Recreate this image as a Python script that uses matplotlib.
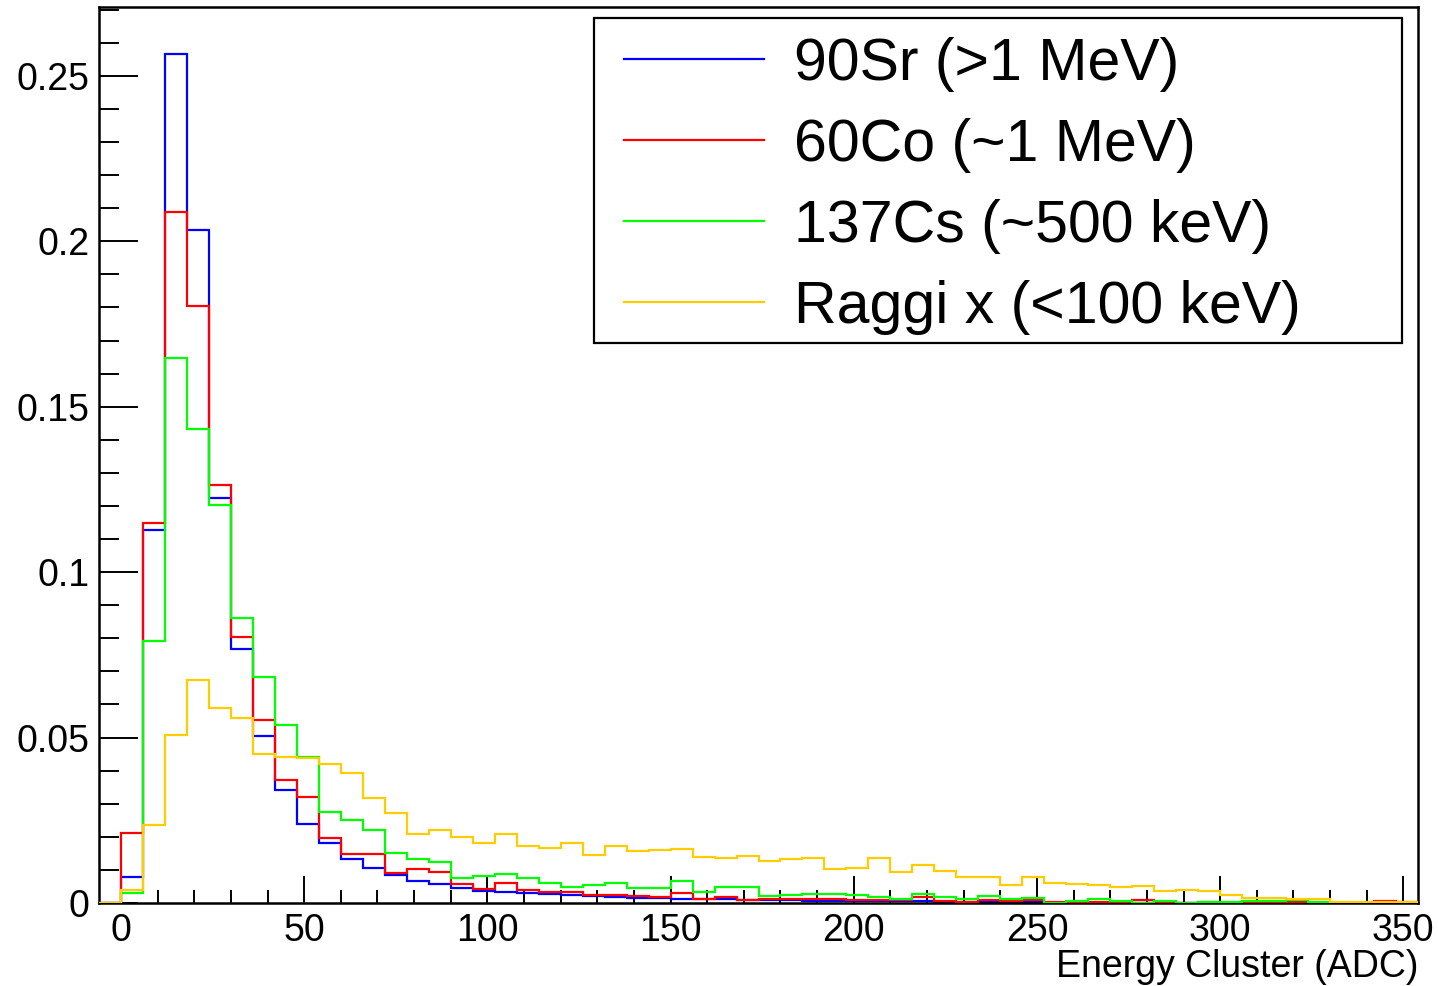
import numpy as np
import matplotlib
matplotlib.use("Agg")
import matplotlib.pyplot as plt
from matplotlib.ticker import MultipleLocator, FuncFormatter
from matplotlib.lines import Line2D
from matplotlib.patches import Rectangle

plt.rcParams['font.family'] = ['Liberation Sans', 'DejaVu Sans']

# Histogram contents for bins 0-6, 6-12, ..., 348-354 (bin -6..0 is empty)
sr90 = [0.0080, 0.1127, 0.2566, 0.2034, 0.1223, 0.0767, 0.0504, 0.0343, 0.0239, 0.0181,
        0.0132, 0.0106, 0.0084, 0.0066, 0.0057, 0.0045, 0.0037, 0.0033, 0.0031, 0.0028,
        0.0025, 0.0021, 0.0018, 0.0016, 0.0015, 0.0013, 0.0012, 0.0011, 0.0010, 0.0009,
        0.0008, 0.0007, 0.0007, 0.0006, 0.0005, 0.0005, 0.0005, 0.0004, 0.0004, 0.0004,
        0.0004, 0.0003, 0, 0, 0, 0, 0, 0, 0, 0,
        0, 0, 0, 0, 0, 0, 0, 0, 0]
co60 = [0.0212, 0.1147, 0.2087, 0.1803, 0.1263, 0.0804, 0.0552, 0.0371, 0.0320, 0.0195,
        0.0149, 0.0147, 0.0091, 0.0102, 0.0093, 0.0057, 0.0041, 0.0060, 0.0038, 0.0033,
        0.0033, 0.0025, 0.0023, 0.0021, 0.0018, 0.0030, 0.0013, 0.0018, 0.0008, 0.0013,
        0.0013, 0.0013, 0.0013, 0.0008, 0.0008, 0.0008, 0.0018, 0.0006, 0.0004, 0.0008,
        0.0006, 0.0010, 0.0002, 0.0002, 0.0002, 0.0002, 0.0008, 0.0004, 0.0001, 0.0002,
        0.0001, 0.0001, 0.0004, 0.0002, 0.0001, 0.0001, 0.0001, 0.0005, 0.0002]
cs137 = [0.0031, 0.0791, 0.1647, 0.1433, 0.1203, 0.0860, 0.0682, 0.0539, 0.0441, 0.0275,
         0.0251, 0.0220, 0.0151, 0.0133, 0.0124, 0.0076, 0.0082, 0.0089, 0.0077, 0.0060,
         0.0047, 0.0055, 0.0060, 0.0044, 0.0044, 0.0067, 0.0033, 0.0047, 0.0047, 0.0020,
         0.0023, 0.0027, 0.0027, 0.0023, 0.0018, 0.0013, 0.0028, 0.0018, 0.0013, 0.0021,
         0.0011, 0.0014, 0.0000, 0.0006, 0.0012, 0.0006, 0.0000, 0.0006, 0.0000, 0.0004,
         0.0002, 0.0005, 0.0005, 0.0008, 0.0002, 0, 0, 0, 0]
xray = [0.0038, 0.0237, 0.0507, 0.0673, 0.0590, 0.0559, 0.0450, 0.0440, 0.0437, 0.0421,
        0.0394, 0.0316, 0.0272, 0.0210, 0.0220, 0.0198, 0.0180, 0.0208, 0.0171, 0.0167,
        0.0181, 0.0144, 0.0171, 0.0156, 0.0159, 0.0162, 0.0138, 0.0136, 0.0141, 0.0127,
        0.0132, 0.0135, 0.0102, 0.0106, 0.0135, 0.0094, 0.0114, 0.0097, 0.0079, 0.0079,
        0.0054, 0.0078, 0.0059, 0.0056, 0.0054, 0.0047, 0.0050, 0.0035, 0.0038, 0.0035,
        0.0023, 0.0015, 0.0014, 0.0012, 0.0011, 0.0003, 0.0003, 0.0002, 0.0002]

labels = ["90Sr (>1 MeV)", "60Co (~1 MeV)", "137Cs (~500 keV)", "Raggi x (<100 keV)"]
colors = ["#0000ff", "#ff0000", "#00ff00", "#ffcc00"]
x_label = "Energy Cluster (ADC)"

bin_lo, bin_hi, bin_w = -6, 354, 6
edges = np.arange(bin_lo, bin_hi + bin_w / 2, bin_w)

W, H = 1438, 986
fig = plt.figure(figsize=(W / 100, H / 100), dpi=100)
ax = fig.add_axes([99 / W, 83 / H, 1319 / W, 896 / H])

series = [sr90, co60, cs137, xray]
order = [0, 2, 1, 3]
for i in order:
    vals = np.concatenate([[0.0], series[i]])
    ax.stairs(vals, edges, color=colors[i], lw=1.6, zorder=2 + i)

ax.set_xlim(bin_lo, bin_hi)
ax.set_ylim(0, 0.2708)

ax.xaxis.set_major_locator(MultipleLocator(50))
ax.xaxis.set_minor_locator(MultipleLocator(10))
ax.yaxis.set_major_locator(MultipleLocator(0.05))
ax.yaxis.set_minor_locator(MultipleLocator(0.01))
ax.yaxis.set_major_formatter(FuncFormatter(lambda v, p: "%g" % round(v, 4)))

ax.tick_params(axis='x', which='major', direction='in', length=19.4, width=1.4,
               labelsize=27, pad=7, top=False)
ax.tick_params(axis='x', which='minor', direction='in', length=9.7, width=1.4, top=False)
ax.tick_params(axis='y', which='major', direction='in', length=28.4, width=1.4,
               labelsize=27, pad=7, right=False)
ax.tick_params(axis='y', which='minor', direction='in', length=14.2, width=1.4, right=False)
for s in ax.spines.values():
    s.set_linewidth(1.8)

ax.set_xlabel(x_label, fontsize=27, ha='right', x=1.0, labelpad=0)

# legend frame (drawn separately to match the box exactly)
ax.add_patch(Rectangle((594 / W, 1 - 343 / H), (1402 - 594) / W, (343 - 18) / H,
                       transform=fig.transFigure, fill=True, facecolor='white',
                       edgecolor='black', lw=1.6, zorder=10, clip_on=False))

fs = 42.5
handles = [Line2D([], [], color=c, lw=1.6) for c in colors]
leg = ax.legend(handles, labels, loc='upper left',
                bbox_to_anchor=(624 / W, 1 - 37 / H),
                bbox_transform=fig.transFigure,
                fontsize=fs, frameon=False,
                handlelength=2.38, handletextpad=0.5, borderpad=0,
                labelspacing=0.44, borderaxespad=0)
leg.set_zorder(11)

fig.savefig("out.png", dpi=100)
